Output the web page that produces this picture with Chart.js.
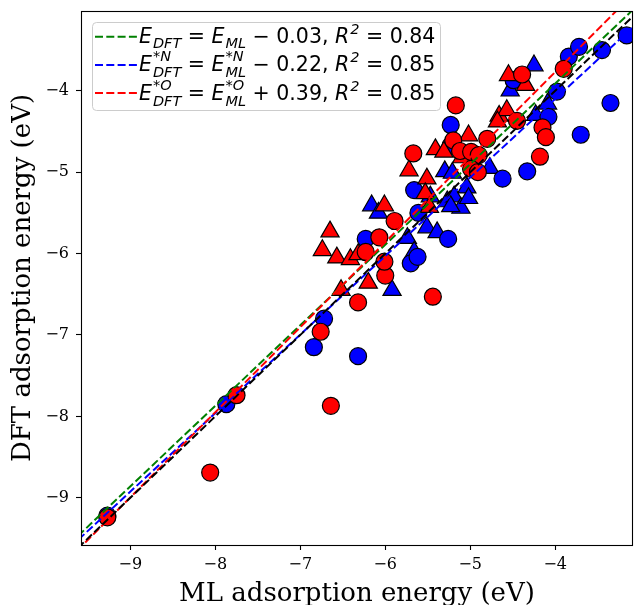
<!DOCTYPE html>
<html>
<head>
<meta charset="utf-8">
<script src="https://cdn.jsdelivr.net/npm/chart.js@4.4.0/dist/chart.umd.min.js"></script>
<style>
  body { margin: 0; background: white; }
  #wrap { width: 634px; height: 605px; }
</style>
</head>
<body>
<div id="wrap"><canvas id="parityChart" width="634" height="605"></canvas></div>
<script>
// ML vs DFT adsorption energies (eV)
// *N adsorbates (blue)
const nCircleML  = [-9.27, -7.87, -6.84, -6.72, -6.32, -6.23, -5.70, -5.62, -5.66, -5.61, -5.26, -5.23, -5.23, -4.62, -4.33, -4.49, -4.08, -3.98, -3.84, -3.72, -3.70, -3.45, -3.35, -3.16, -4.98];
const nCircleDFT = [-9.22, -7.85, -7.15, -6.80, -7.26, -5.82, -6.12, -6.04, -5.22, -5.50, -5.82, -4.42, -4.67, -5.08, -4.99, -3.87, -4.32, -4.01, -3.58, -3.46, -4.54, -3.50, -4.15, -3.32, -4.95];
const nTriML  = [-6.16, -6.08, -5.92, -5.74, -5.66, -5.51, -5.39, -5.30, -5.21, -5.04, -5.27, -5.19, -5.11, -5.23, -4.77, -4.53, -4.25, -4.23, -4.09, -5.47, -5.02];
const nTriDFT = [-5.41, -5.50, -6.45, -5.81, -5.98, -5.68, -5.74, -4.99, -5.01, -5.19, -5.36, -5.30, -5.44, -5.42, -4.95, -4.00, -3.69, -4.30, -4.16, -5.30, -5.32];

// *O adsorbates (red)
const oCircleML  = [-9.27, -8.06, -7.75, -6.64, -6.76, -6.32, -5.44, -6.00, -6.01, -6.23, -6.07, -5.89, -5.67, -5.17, -5.20, -5.12, -4.99, -4.90, -4.99, -4.91, -4.80, -4.45, -4.39, -4.15, -4.11, -4.18, -3.90];
const oCircleDFT = [-9.24, -8.69, -7.74, -7.87, -6.96, -6.60, -6.53, -6.27, -6.10, -5.98, -5.80, -5.60, -4.77, -4.18, -4.61, -4.74, -4.75, -4.79, -4.96, -5.00, -4.59, -4.37, -3.80, -4.45, -4.57, -4.81, -3.73];
const oTriML  = [-6.65, -6.74, -6.57, -6.41, -6.32, -6.20, -6.52, -6.01, -5.72, -5.51, -5.53, -5.41, -5.31, -5.02, -4.66, -4.57, -4.68, -4.55, -4.35, -5.10, -5.48];
const oTriDFT = [-5.73, -5.96, -6.05, -6.07, -6.01, -6.36, -6.45, -5.41, -4.98, -5.08, -5.26, -4.72, -4.75, -4.55, -4.31, -4.24, -4.38, -3.81, -3.93, -4.82, -5.43];

// linear fits: all, *N, *O
const fitSlopes = [0.99, 0.965, 1.045];
const fitIntercepts = [0.05, -0.24, 0.41];
const fitColors = ["green", "blue", "red"];
const fitOffsets = ["\u2212 0.03,", "\u2212 0.22,", "+ 0.39,"];
const fitR2 = ["0.84", "0.85", "0.85"];
const fitSup = ["", "*N", "*O"];

const tickValues = [-9, -8, -7, -6, -5, -4];
const axisMin = -9.58;
const xMax = -3.085;
const yMax = -3.02;

function toPoints(xs, ys) {
  return xs.map((x, i) => ({ x: x, y: ys[i] }));
}

function fitLine(i) {
  return [-10, -3].map((x) => ({ x: x, y: fitSlopes[i] * x + fitIntercepts[i] }));
}

function tickText(v) {
  return v < 0 ? "\u2212" + Math.abs(v) : String(v);
}

function markerSet(label, xs, ys, color, style, r, order) {
  return {
    label: label,
    data: toPoints(xs, ys),
    backgroundColor: color,
    borderColor: "black",
    borderWidth: 1.2,
    pointStyle: style,
    pointRadius: r,
    pointHoverRadius: r,
    order: order,
  };
}

function lineSet(data, color, order) {
  return {
    data: data,
    showLine: true,
    borderColor: color,
    borderWidth: 2,
    borderDash: [8, 3.3],
    pointRadius: 0,
    fill: false,
    order: order,
  };
}

const serif = '"DejaVu Serif", serif';
const sans = '"DejaVu Sans", sans-serif';
const legendSize = 20.5;
const scriptSize = 14.5;

// draws a symbol with optional stacked super/subscript, returns new x
function drawSym(ctx, x, y, sym, sup, sub) {
  ctx.font = "italic " + legendSize + "px " + sans;
  ctx.fillText(sym, x, y);
  x += ctx.measureText(sym).width + 1;
  ctx.font = "italic " + scriptSize + "px " + sans;
  let w = 0;
  if (sup) {
    ctx.fillText(sup, x, y - (sub ? 10 : 9));
    w = ctx.measureText(sup).width;
  }
  if (sub) {
    ctx.fillText(sub, x, y + (sup ? 6 : 5));
    w = Math.max(w, ctx.measureText(sub).width);
  }
  return x + w;
}

function drawPlain(ctx, x, y, text) {
  ctx.font = legendSize + "px " + sans;
  ctx.fillText(text, x, y);
  return x + ctx.measureText(text).width;
}

const decorPlugin = {
  id: "decor",
  afterDatasetsDraw(chart) {
    const ctx = chart.ctx;
    const a = chart.chartArea;
    ctx.save();
    ctx.strokeStyle = "black";
    ctx.lineWidth = 1.1;
    ctx.strokeRect(Math.round(a.left) + 0.5, Math.round(a.top) + 0.5,
      Math.round(a.right - a.left) - 1, Math.round(a.bottom - a.top));
    ctx.restore();
  },
  afterDraw(chart) {
    const ctx = chart.ctx;
    const a = chart.chartArea;
    ctx.save();
    ctx.fillStyle = "black";

    // x tick labels, placed on the x scale
    ctx.font = "16px " + serif;
    ctx.textAlign = "center";
    ctx.textBaseline = "middle";
    tickValues.forEach((v) => {
      ctx.fillText(tickText(v), chart.scales.x.getPixelForValue(v), 565);
    });

    // axis titles
    ctx.font = "26px " + serif;
    ctx.textBaseline = "alphabetic";
    ctx.fillText("ML adsorption energy (eV)", (a.left + a.right) / 2, 601);
    ctx.save();
    ctx.translate(30, (a.top + a.bottom) / 2);
    ctx.rotate(-Math.PI / 2);
    ctx.fillText("DFT adsorption energy (eV)", 0, 0);
    ctx.restore();

    // legend box
    ctx.beginPath();
    ctx.roundRect(92.5, 22.5, 348, 88, 4);
    ctx.fillStyle = "rgba(255,255,255,0.8)";
    ctx.fill();
    ctx.strokeStyle = "#cccccc";
    ctx.lineWidth = 1;
    ctx.stroke();

    ctx.textAlign = "left";
    for (let i = 0; i < 3; i++) {
      const base = 43.2 + i * 28.2;
      ctx.beginPath();
      ctx.setLineDash([8, 3.3]);
      ctx.strokeStyle = fitColors[i];
      ctx.lineWidth = 2;
      ctx.moveTo(95, base - 6.5);
      ctx.lineTo(137, base - 6.5);
      ctx.stroke();
      ctx.setLineDash([]);

      ctx.fillStyle = "black";
      let x = 139;
      x = drawSym(ctx, x, base, "E", fitSup[i], "DFT");
      x = drawPlain(ctx, x, base, " = ");
      x = drawSym(ctx, x, base, "E", fitSup[i], "ML");
      x = drawPlain(ctx, x, base, " " + fitOffsets[i] + " ");
      x = drawSym(ctx, x, base, "R", "2", "");
      drawPlain(ctx, x, base, " = " + fitR2[i]);
    }
    ctx.restore();
  },
};

function axisOptions(max, side) {
  return {
    type: "linear",
    min: axisMin,
    max: max,
    afterBuildTicks: (scale) => {
      scale.ticks = tickValues.map((v) => ({ value: v }));
    },
    afterFit: (scale) => {
      if (side === "x") scale.height = 60;
      else scale.width = 81;
      scale.paddingTop = 0;
      scale.paddingBottom = 0;
      scale.paddingLeft = 0;
      scale.paddingRight = 0;
    },
    border: { display: false },
    grid: {
      drawOnChartArea: false,
      drawTicks: true,
      tickLength: 5,
      tickWidth: 1.1,
      tickColor: "black",
    },
    ticks: {
      // x labels are drawn by the decor plugin
      display: side !== "x",
      color: "black",
      padding: 7,
      font: { family: "DejaVu Serif", size: 16 },
      callback: tickText,
    },
  };
}

const chart = new Chart(document.getElementById("parityChart"), {
  type: "scatter",
  data: {
    datasets: [
      lineSet(fitLine(0).map((p) => ({ x: p.x, y: p.x })), "black", 0),
      lineSet(fitLine(2), fitColors[2], 1),
      lineSet(fitLine(1), fitColors[1], 2),
      lineSet(fitLine(0), fitColors[0], 3),
      markerSet("*O circles", oCircleML, oCircleDFT, "red", "circle", 8.5, 4),
      markerSet("*O triangles", oTriML, oTriDFT, "red", "triangle", 10.5, 5),
      markerSet("*N circles", nCircleML, nCircleDFT, "blue", "circle", 8.5, 6),
      markerSet("*N triangles", nTriML, nTriDFT, "blue", "triangle", 10.5, 7),
    ],
  },
  options: {
    responsive: false,
    animation: false,
    layout: { autoPadding: false, padding: { top: 11, right: 1, left: 0, bottom: 0 } },
    plugins: {
      legend: { display: false },
      tooltip: { enabled: false },
    },
    scales: {
      x: axisOptions(xMax, "x"),
      y: axisOptions(yMax, "y"),
    },
  },
  plugins: [decorPlugin],
});
</script>
</body>
</html>
